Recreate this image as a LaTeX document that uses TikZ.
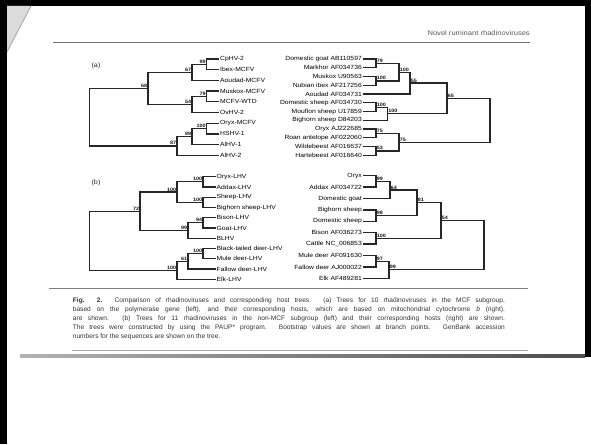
\documentclass[tikz,border=0pt]{standalone}
\usepackage{fontspec}
\setmainfont{Liberation Sans}
\newfontfamily\widesans[FakeStretch=1.13]{Liberation Sans}
\begin{document}
\begin{tikzpicture}[x=1pt,y=-1pt,
  br/.style={draw=black!85, line width=1.25pt},
  leafL/.style={anchor=west, inner sep=1pt, font=\widesans\fontsize{6}{7}\selectfont, text=black},
  leafR/.style={anchor=east, inner sep=1pt, font=\widesans\fontsize{6}{7}\selectfont, text=black},
  bsL/.style={anchor=south east, inner sep=0.7pt, font=\widesans\bfseries\fontsize{4.8}{5}\selectfont, text=black!90},
  bsR/.style={anchor=south west, inner sep=0.7pt, font=\widesans\bfseries\fontsize{4.8}{5}\selectfont, text=black!90},
  capline/.style={anchor=west, inner sep=0pt, font=\fontsize{6.6}{7}\selectfont, text=black!80},
  panel/.style={anchor=center, inner sep=0pt, font=\widesans\fontsize{6.4}{7}\selectfont, text=black!85}]
\useasboundingbox (0,0) rectangle (591,444);
% page
\fill[white] (0,0) rectangle (591,444);
\fill[black] (0,0) rectangle (591,6);
\fill[black] (0,0) rectangle (7,444);
\fill[black] (585,0) rectangle (591,357);
\fill[black!14] (7,6) -- (31,6) -- (7,52) -- cycle;
\draw[black!35, line width=0.8pt] (31,6) -- (7,52);
% header
\node[anchor=east, inner sep=0pt, font=\widesans\fontsize{6.7}{8}\selectfont, text=black!65] (hdr) at (530,33) {Novel ruminant rhadinoviruses};
\draw[black!55, line width=0.8pt] (53,42) -- (530,42);
% panel labels
\node[panel] (pa) at (96,66) {(a)};
\node[panel] (pb) at (96,183) {(b)};

% ===== (a) left tree =====
\node[leafL] (aCp) at (219,59) {CpHV-2};
\node[leafL] (aIb) at (219,69.7) {Ibex-MCFV};
\node[leafL] (aAo) at (219,80.4) {Aoudad-MCFV};
\node[leafL] (aMu) at (219,91.1) {Muskox-MCFV};
\node[leafL] (aWT) at (219,101.8) {MCFV-WTD};
\node[leafL] (aOv) at (219,112.5) {OvHV-2};
\node[leafL] (aOr) at (219,123.2) {Oryx-MCFV};
\node[leafL] (aHS) at (219,133.9) {HSHV-1};
\node[leafL] (aA1) at (219,144.6) {AlHV-1};
\node[leafL] (aA2) at (219,155.3) {AlHV-2};
\coordinate (a99) at (206.6,64.35);
\coordinate (a67) at (192,72.375);
\coordinate (a79) at (206.6,96.45);
\coordinate (a54) at (192,104.475);
\coordinate (a68) at (148,88.425);
\coordinate (a100) at (206.6,128.55);
\coordinate (a89) at (192,136.575);
\coordinate (a87) at (177,145.94);
\coordinate (aR) at (89.3,117.18);
\draw[br] (a99) |- (aCp.west); \draw[br] (a99) |- (aIb.west);
\draw[br] (a67) |- (a99); \draw[br] (a67) |- (aAo.west);
\draw[br] (a79) |- (aMu.west); \draw[br] (a79) |- (aWT.west);
\draw[br] (a54) |- (a79); \draw[br] (a54) |- (aOv.west);
\draw[br] (a68) |- (a67); \draw[br] (a68) |- (a54);
\draw[br] (a100) |- (aOr.west); \draw[br] (a100) |- (aHS.west);
\draw[br] (a89) |- (a100); \draw[br] (a89) |- (aA1.west);
\draw[br] (a87) |- (a89); \draw[br] (a87) |- (aA2.west);
\draw[br] (aR) |- (a68); \draw[br] (aR) |- (a87);
\node[bsL] at (a99) {99};
\node[bsL] at (a67) {67};
\node[bsL] at (a79) {79};
\node[bsL] at (a54) {54};
\node[bsL] at (a68) {68};
\node[bsL] at (a100) {100};
\node[bsL] at (a89) {89};
\node[bsL] at (a87) {87};

% ===== (a) right tree =====
\node[leafR] (hGo) at (363,59) {Domestic goat AB110597};
\node[leafR] (hMa) at (363,67.75) {Markhor AF034736};
\node[leafR] (hMu) at (363,76.5) {Muskox U90563};
\node[leafR] (hNu) at (363,85.25) {Nubian ibex AF217256};
\node[leafR] (hAo) at (363,94) {Aoudad AF034731};
\node[leafR] (hDs) at (363,102.75) {Domestic sheep AF034730};
\node[leafR] (hMo) at (363,111.5) {Mouflon sheep U17859};
\node[leafR] (hBi) at (363,120.25) {Bighorn sheep D84203};
\node[leafR] (hOr) at (363,129) {Oryx AJ222685};
\node[leafR] (hRo) at (363,137.75) {Roan antelope AF022060};
\node[leafR] (hWi) at (363,146.5) {Wildebeest AF016637};
\node[leafR] (hHa) at (363,155.25) {Hartebeest AF016640};
\coordinate (r79) at (376,63.375);
\coordinate (r100a) at (376,80.875);
\coordinate (r100b) at (399,72.125);
\coordinate (r55) at (410,83.06);
\coordinate (r100c) at (376,107.125);
\coordinate (r100d) at (387.5,113.69);
\coordinate (r65) at (447,98.375);
\coordinate (r75a) at (376,133.375);
\coordinate (r53) at (376,150.875);
\coordinate (r75b) at (399,142.125);
\coordinate (rR) at (490,120.25);
\draw[br] (r79) |- (hGo.east); \draw[br] (r79) |- (hMa.east);
\draw[br] (r100a) |- (hMu.east); \draw[br] (r100a) |- (hNu.east);
\draw[br] (r100b) |- (r79); \draw[br] (r100b) |- (r100a);
\draw[br] (r55) |- (r100b); \draw[br] (r55) |- (hAo.east);
\draw[br] (r100c) |- (hDs.east); \draw[br] (r100c) |- (hMo.east);
\draw[br] (r100d) |- (r100c); \draw[br] (r100d) |- (hBi.east);
\draw[br] (r65) |- (r55); \draw[br] (r65) |- (r100d);
\draw[br] (r75a) |- (hOr.east); \draw[br] (r75a) |- (hRo.east);
\draw[br] (r53) |- (hWi.east); \draw[br] (r53) |- (hHa.east);
\draw[br] (r75b) |- (r75a); \draw[br] (r75b) |- (r53);
\draw[br] (rR) |- (r65); \draw[br] (rR) |- (r75b);
\node[bsR] at (r79) {79};
\node[bsR] at (r100a) {100};
\node[bsR] at (r100b) {100};
\node[bsR] at (r55) {55};
\node[bsR] at (r100c) {100};
\node[bsR] at (r100d) {100};
\node[bsR] at (r65) {65};
\node[bsR] at (r75a) {75};
\node[bsR] at (r53) {53};
\node[bsR] at (r75b) {75};

% ===== (b) left tree =====
\node[leafL] (bOr) at (215.5,176.7) {Oryx-LHV};
\node[leafL] (bAd) at (215.5,186.96) {Addax-LHV};
\node[leafL] (bSh) at (215.5,197.22) {Sheep-LHV};
\node[leafL] (bBi) at (215.5,207.48) {Bighorn sheep-LHV};
\node[leafL] (bBs) at (215.5,217.74) {Bison-LHV};
\node[leafL] (bGo) at (215.5,228) {Goat-LHV};
\node[leafL] (bBL) at (215.5,238.26) {BLHV};
\node[leafL] (bBt) at (215.5,248.52) {Black-tailed deer-LHV};
\node[leafL] (bMd) at (215.5,258.78) {Mule deer-LHV};
\node[leafL] (bFd) at (215.5,269.04) {Fallow deer-LHV};
\node[leafL] (bEl) at (215.5,279.3) {Elk-LHV};
\coordinate (b100a) at (203,181.83);
\coordinate (b100b) at (203,202.35);
\coordinate (b100c) at (177,192.09);
\coordinate (b94) at (203,222.87);
\coordinate (b99) at (188,230.565);
\coordinate (b72) at (140,211.33);
\coordinate (b100d) at (203,253.65);
\coordinate (b61) at (188,261.345);
\coordinate (b100e) at (177,270.32);
\coordinate (bR) at (89.3,240.83);
\draw[br] (b100a) |- (bOr.west); \draw[br] (b100a) |- (bAd.west);
\draw[br] (b100b) |- (bSh.west); \draw[br] (b100b) |- (bBi.west);
\draw[br] (b100c) |- (b100a); \draw[br] (b100c) |- (b100b);
\draw[br] (b94) |- (bBs.west); \draw[br] (b94) |- (bGo.west);
\draw[br] (b99) |- (b94); \draw[br] (b99) |- (bBL.west);
\draw[br] (b72) |- (b100c); \draw[br] (b72) |- (b99);
\draw[br] (b100d) |- (bBt.west); \draw[br] (b100d) |- (bMd.west);
\draw[br] (b61) |- (b100d); \draw[br] (b61) |- (bFd.west);
\draw[br] (b100e) |- (b61); \draw[br] (b100e) |- (bEl.west);
\draw[br] (bR) |- (b72); \draw[br] (bR) |- (b100e);
\node[bsL] at (b100a) {100};
\node[bsL] at (b100b) {100};
\node[bsL] at (b100c) {100};
\node[bsL] at (b94) {94};
\node[bsL] at (b99) {99};
\node[bsL] at (b72) {72};
\node[bsL] at (b100d) {100};
\node[bsL] at (b61) {61};
\node[bsL] at (b100e) {100};

% ===== (b) right tree =====
\node[leafR] (sOr) at (363,175.7) {Oryx};
\node[leafR] (sAd) at (363,187.1) {Addax AF034722};
\node[leafR] (sGo) at (363,198.5) {Domestic goat};
\node[leafR] (sBi) at (363,209.9) {Bighorn sheep};
\node[leafR] (sDs) at (363,221.3) {Domestic sheep};
\node[leafR] (sBs) at (363,232.7) {Bison AF036273};
\node[leafR] (sCa) at (363,244.1) {Cattle NC\_006853};
\node[leafR] (sMd) at (363,255.5) {Mule deer AF091630};
\node[leafR] (sFd) at (363,266.9) {Fallow deer AJ000022};
\node[leafR] (sEl) at (363,278.3) {Elk AF489281};
\coordinate (s99) at (376,181.4);
\coordinate (s64) at (390,189.95);
\coordinate (s98) at (376,215.6);
\coordinate (s81) at (417,202.775);
\coordinate (s100) at (376,238.4);
\coordinate (s54) at (441,220.59);
\coordinate (s97) at (376,261.2);
\coordinate (s99b) at (389,269.75);
\coordinate (sR) at (484,245.17);
\draw[br] (s99) |- (sOr.east); \draw[br] (s99) |- (sAd.east);
\draw[br] (s64) |- (s99); \draw[br] (s64) |- (sGo.east);
\draw[br] (s98) |- (sBi.east); \draw[br] (s98) |- (sDs.east);
\draw[br] (s81) |- (s64); \draw[br] (s81) |- (s98);
\draw[br] (s100) |- (sBs.east); \draw[br] (s100) |- (sCa.east);
\draw[br] (s54) |- (s81); \draw[br] (s54) |- (s100);
\draw[br] (s97) |- (sMd.east); \draw[br] (s97) |- (sFd.east);
\draw[br] (s99b) |- (s97); \draw[br] (s99b) |- (sEl.east);
\draw[br] (sR) |- (s54); \draw[br] (sR) |- (s99b);
\node[bsR] at (s99) {99};
\node[bsR] at (s64) {64};
\node[bsR] at (s98) {98};
\node[bsR] at (s81) {81};
\node[bsR] at (s100) {100};
\node[bsR] at (s54) {54};
\node[bsR] at (s97) {97};
\node[bsR] at (s99b) {99};

% rules
\draw[black!50, line width=0.8pt] (49,288.3) -- (528,288.3);
% caption
\node[capline] (c1) at (72.7,301) {\makebox[432pt][s]{\textbf{Fig. 2.} Comparison of rhadinoviruses and corresponding host trees. (a) Trees for 10 rhadinoviruses in the MCF subgroup,}};
\node[capline] (c2) at (72.7,310) {\makebox[432pt][s]{based on the polymerase gene (left), and their corresponding hosts, which are based on mitochondrial cytochrome \textit{b} (right),}};
\node[capline] (c3) at (72.7,319) {\makebox[432pt][s]{are shown. (b) Trees for 11 rhadinoviruses in the non-MCF subgroup (left) and their corresponding hosts (right) are shown.}};
\node[capline] (c4) at (72.7,328) {\makebox[432pt][s]{The trees were constructed by using the PAUP* program. Bootstrap values are shown at branch points. GenBank accession}};
\node[capline] (c5) at (72.7,337) {numbers for the sequences are shown on the tree.};
\draw[black!35, line width=0.7pt] (72,350) -- (528,350);
\shade[left color=black!30, right color=black!70] (20,354) rectangle (585,357);
\end{tikzpicture}
\end{document}
